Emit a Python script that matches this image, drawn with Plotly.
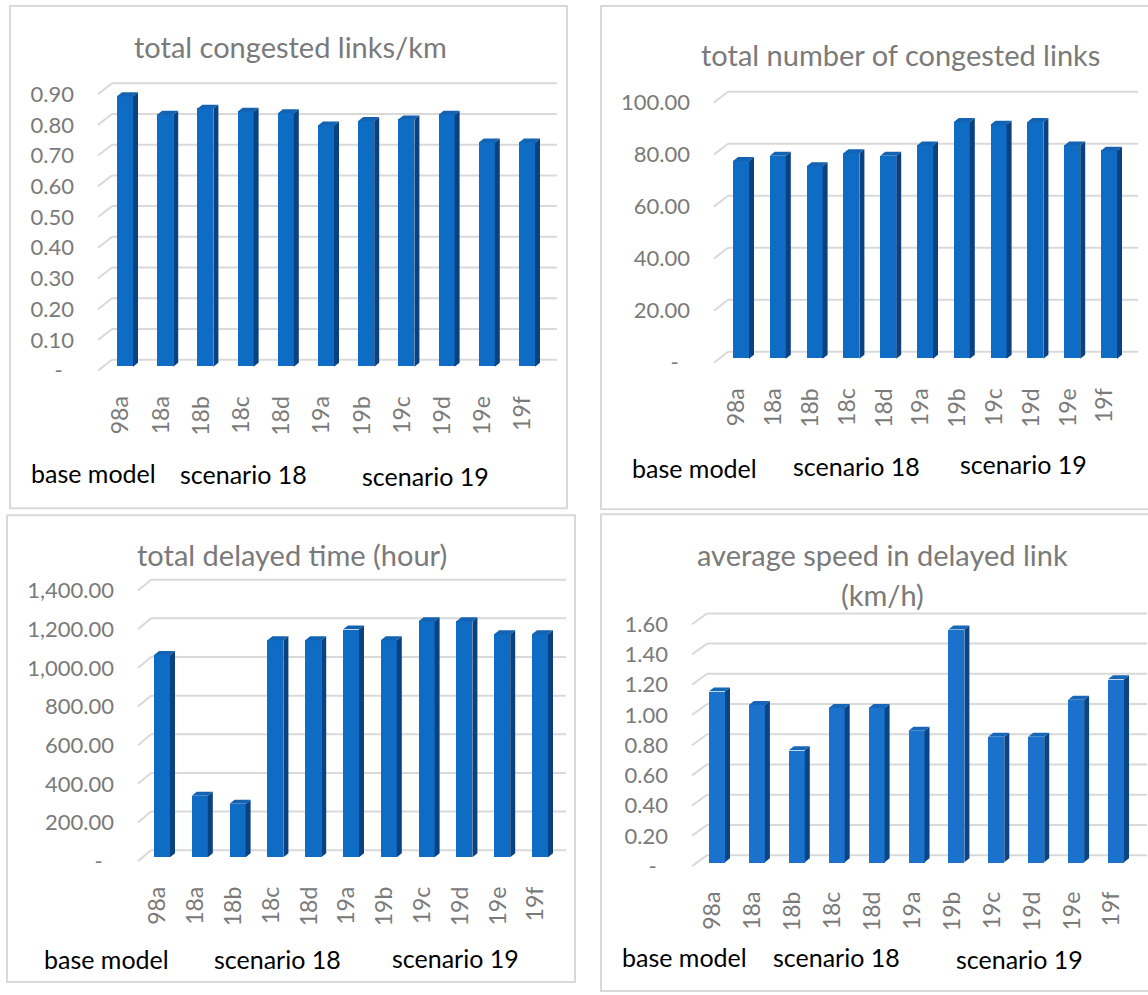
import plotly.graph_objects as go

W, H = 1148, 995

# ---- data ----
categories = ["98a", "18a", "18b", "18c", "18d", "19a", "19b", "19c", "19d", "19e", "19f"]
group_labels = ["base model", "scenario 18", "scenario 19"]

congested_links_per_km = [0.88, 0.82, 0.84, 0.83, 0.825, 0.785, 0.80, 0.805, 0.82, 0.73, 0.73]
congested_links_count = [76, 78, 74, 79, 78, 82, 91, 90, 91, 82, 80]
delayed_time_hours = [1046, 318, 277, 1123, 1123, 1179, 1123, 1221, 1221, 1154, 1154]
avg_speed_delayed = [1.13, 1.04, 0.74, 1.02, 1.02, 0.87, 1.54, 0.83, 0.83, 1.075, 1.21]

ticks_per_km = [0, 0.1, 0.2, 0.3, 0.4, 0.5, 0.6, 0.7, 0.8, 0.9]
ticktext_per_km = ["-\u00a0\u00a0", "0.10", "0.20", "0.30", "0.40", "0.50", "0.60", "0.70", "0.80", "0.90"]
ticks_count = [0, 20, 40, 60, 80, 100]
ticktext_count = ["-\u00a0\u00a0", "20.00", "40.00", "60.00", "80.00", "100.00"]
ticks_hours = [0, 200, 400, 600, 800, 1000, 1200, 1400]
ticktext_hours = ["-\u00a0\u00a0", "200.00", "400.00", "600.00", "800.00", "1,000.00", "1,200.00", "1,400.00"]
ticks_speed = [0, 0.2, 0.4, 0.6, 0.8, 1.0, 1.2, 1.4, 1.6]
ticktext_speed = ["-\u00a0\u00a0", "0.20", "0.40", "0.60", "0.80", "1.00", "1.20", "1.40", "1.60"]

FONT = "Lato"
GRAY = "#7a7a7a"
GRID = "#d9d9d9"

# ---- panel layout (pixel geometry of each framed chart) ----
panels = [
    dict(values=congested_links_per_km, ticks=ticks_per_km, ticktext=ticktext_per_km,
         title=["total congested links/km"], title_y=[47], title_x=290,
         box=(10, 6, 567, 513), zero_px=374, ppu=310.0, top_px=72,
         diag=(98, 112), grid_end=557, front0=121, spacing=40.2,
         groups=[(93, 477), (243, 478), (425, 480)],
         front="#0e6cc4", side="#0a4180", top="#1462b2"),
    dict(values=congested_links_count, ticks=ticks_count, ticktext=ticktext_count,
         title=["total number of congested links"], title_y=[55], title_x=900,
         box=(601, 6, 1160, 514), zero_px=366, ppu=2.625, top_px=78,
         diag=(714, 728), grid_end=1138, front0=737, spacing=36.8,
         groups=[(694, 472), (856, 470), (1023, 468)],
         front="#0e6cc4", side="#0a4180", top="#1462b2"),
    dict(values=delayed_time_hours, ticks=ticks_hours, ticktext=ticktext_hours,
         title=["total delayed time (hour)"], title_y=[560], title_x=292,
         box=(7, 520, 575, 991), zero_px=869, ppu=0.195, top_px=575,
         diag=(138, 151), grid_end=566, front0=158, spacing=37.8,
         groups=[(106, 968), (277, 968), (455, 967)],
         front="#0e6cc4", side="#0a4180", top="#1462b2"),
    dict(values=avg_speed_delayed, ticks=ticks_speed, ticktext=ticktext_speed,
         title=["average speed in delayed link", "(km/h)"], title_y=[560, 600], title_x=882,
         box=(601, 519, 1160, 1000), zero_px=874, ppu=152.5, top_px=608,
         diag=(692, 707), grid_end=1147, front0=713, spacing=39.9,
         groups=[(684, 966), (837, 966), (1019, 968)],
         front="#1a72cc", side="#0b4585", top="#1767b8"),
]

BASE_PX = 4      # bars stand slightly behind the front edge of the floor
BACK_PX = 11     # rise of the back wall gridlines above the front edge
BAR_W_PX = 16    # front face width
SIDE_PX = 5      # depth of the side face
TOPF_PX = 4      # height of the top face
SHIFT_PX = 4     # bars sit a little to the right of the front tick positions
PAD_BOTTOM = 4

fig = go.Figure()
shapes = []
annotations = []


def px_x(x):
    return x / W


def px_y(y):
    return 1 - y / H


for k, p in enumerate(panels, start=1):
    xa = "x" if k == 1 else f"x{k}"
    ya = "y" if k == 1 else f"y{k}"
    ppu = p["ppu"]
    sp = p["spacing"]
    left_px, right_px = p["diag"][0], p["grid_end"]
    bottom_px = p["zero_px"] + PAD_BOTTOM
    top_px = p["top_px"]

    xr = [(left_px - p["front0"]) / sp, (right_px - p["front0"]) / sp]
    yr = [-PAD_BOTTOM / ppu, (p["zero_px"] - top_px) / ppu]

    n = len(categories)
    idx = list(range(n))
    w = BAR_W_PX / sp
    shift = SHIFT_PX / sp
    base = BASE_PX / ppu
    dx = SIDE_PX / sp
    dy = TOPF_PX / ppu

    # front faces
    fig.add_trace(go.Bar(
        x=idx, y=p["values"], base=base, width=w, offset=-w / 2 + shift,
        marker=dict(color=p["front"], line=dict(width=0)),
        xaxis=xa, yaxis=ya, hoverinfo="skip", showlegend=False,
    ))

    # side and top faces of each column, built from the same values
    side_x, side_y, top_x, top_y = [], [], [], []
    for i, v in zip(idx, p["values"]):
        xl = i + shift - w / 2
        xr_ = i + shift + w / 2
        yt = base + v
        side_x += [xr_, xr_ + dx, xr_ + dx, xr_, xr_, None]
        side_y += [base, base + dy, yt + dy, yt, base, None]
        top_x += [xl, xl + dx, xr_ + dx, xr_, xl, None]
        top_y += [yt, yt + dy, yt + dy, yt, yt, None]
    fig.add_trace(go.Scatter(x=side_x, y=side_y, mode="lines", fill="toself",
                             fillcolor=p["side"], line=dict(width=0, color=p["side"]),
                             xaxis=xa, yaxis=ya, hoverinfo="skip", showlegend=False))
    fig.add_trace(go.Scatter(x=top_x, y=top_y, mode="lines", fill="toself",
                             fillcolor=p["top"], line=dict(width=0, color=p["top"]),
                             xaxis=xa, yaxis=ya, hoverinfo="skip", showlegend=False))

    # back-wall gridlines with the perspective stub on the left
    back = BACK_PX / ppu
    bend = (p["diag"][1] - p["diag"][0]) / (p["grid_end"] - p["diag"][0])
    for v in p["ticks"]:
        shapes.append(dict(type="line", xref=f"{xa} domain", yref=ya,
                           x0=0, x1=bend, y0=v, y1=v + back,
                           line=dict(color=GRID, width=2), layer="below"))
        shapes.append(dict(type="line", xref=f"{xa} domain", yref=ya,
                           x0=bend, x1=1, y0=v + back, y1=v + back,
                           line=dict(color=GRID, width=2), layer="below"))

    fig.update_layout(**{
        ("xaxis" if k == 1 else f"xaxis{k}"): dict(
            domain=[px_x(left_px), px_x(right_px)], range=xr, anchor=ya,
            tickvals=idx, ticktext=categories, tickangle=-90,
            tickfont=dict(family=FONT, size=23, color=GRAY),
            showgrid=False, zeroline=False, showline=False, ticks="",
            ticklabelstandoff=16, fixedrange=True),
        ("yaxis" if k == 1 else f"yaxis{k}"): dict(
            domain=[px_y(bottom_px), px_y(top_px)], range=yr, anchor=xa,
            tickvals=p["ticks"], ticktext=p["ticktext"],
            tickfont=dict(family=FONT, size=22, color=GRAY),
            showgrid=False, zeroline=False, showline=False, ticks="",
            ticklabelstandoff=23, fixedrange=True),
    })

    # frame
    bx0, by0, bx1, by1 = p["box"]
    shapes.append(dict(type="rect", xref="paper", yref="paper",
                       x0=px_x(bx0), x1=px_x(bx1), y0=px_y(by1), y1=px_y(by0),
                       line=dict(color=GRID, width=2), fillcolor="rgba(0,0,0,0)", layer="below"))

    # title
    for line, ty in zip(p["title"], p["title_y"]):
        annotations.append(dict(text=line, x=px_x(p["title_x"]), y=px_y(ty),
                                xref="paper", yref="paper", showarrow=False,
                                xanchor="center", yanchor="middle",
                                font=dict(family=FONT, size=29, color=GRAY)))

    # group captions
    for label, (gx, gy) in zip(group_labels, p["groups"]):
        annotations.append(dict(text=label, x=px_x(gx), y=px_y(gy),
                                xref="paper", yref="paper", showarrow=False,
                                xanchor="center", yanchor="middle",
                                font=dict(family=FONT, size=25, color="#000000")))

fig.update_layout(
    width=W, height=H, margin=dict(l=0, r=0, t=0, b=0),
    paper_bgcolor="white", plot_bgcolor="rgba(0,0,0,0)",
    showlegend=False, bargap=0, shapes=shapes, annotations=annotations,
    font=dict(family=FONT),
)

fig.write_html("out.html")
